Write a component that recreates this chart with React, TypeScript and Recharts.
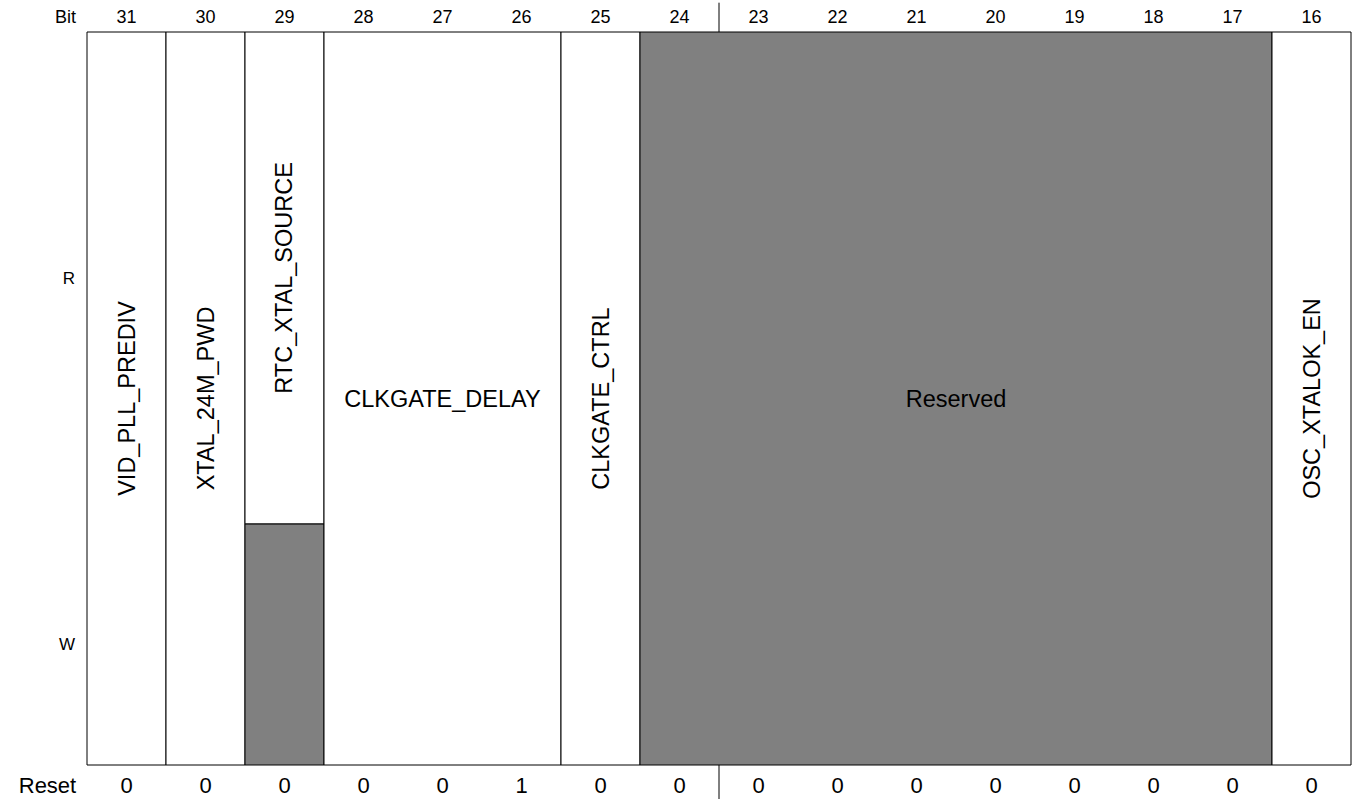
import { ComposedChart, XAxis, YAxis, ReferenceArea, ReferenceLine } from 'recharts';

const FONT = '"Liberation Sans", Arial, Helvetica, sans-serif';

// bit numbers, left to right
const bits = [31, 30, 29, 28, 27, 26, 25, 24, 23, 22, 21, 20, 19, 18, 17, 16];
const resetValues = [0, 0, 0, 0, 0, 1, 0, 0, 0, 0, 0, 0, 0, 0, 0, 0];

// register fields: rw = read/write, ro = read only, reserved = not used
const fields = [
  { name: 'VID_PLL_PREDIV', hi: 31, lo: 31, access: 'rw' },
  { name: 'XTAL_24M_PWD', hi: 30, lo: 30, access: 'rw' },
  { name: 'RTC_XTAL_SOURCE', hi: 29, lo: 29, access: 'ro' },
  { name: 'CLKGATE_DELAY', hi: 28, lo: 26, access: 'rw' },
  { name: 'CLKGATE_CTRL', hi: 25, lo: 25, access: 'rw' },
  { name: 'Reserved', hi: 24, lo: 17, access: 'reserved' },
  { name: 'OSC_XTALOK_EN', hi: 16, lo: 16, access: 'rw' },
];

// access rows on the y axis (0 = bottom, 1 = top)
const accessRows = [
  { name: 'R', from: 0.329, to: 1 },
  { name: 'W', from: 0, to: 0.329 },
];

// the split mark between bit 24 and 23 that runs through the header and reset rows
const halfwordSplitBit = 24;

const data = bits.map((b, i) => ({ pos: i + 0.5, bit: b, reset: resetValues[i] }));
const colOf = (bit: number) => bits[0] - bit;

const GRAY = '#808080';

const fieldLabel = (text: string, vertical: boolean) => (props: any) => {
  const { x, y, width, height } = props.viewBox;
  const cx = x + width / 2;
  const cy = y + height / 2;
  return (
    <text
      x={cx}
      y={cy}
      textAnchor="middle"
      dominantBaseline="central"
      fontSize={23.5}
      fontFamily={FONT}
      fill="#000"
      transform={vertical ? `rotate(-90 ${cx} ${cy})` : undefined}
    >
      {text}
    </text>
  );
};

export default function App() {
  const r = accessRows[0];
  const w = accessRows[1];
  return (
    <div style={{ position: 'absolute', left: 0, top: 0, background: '#fff' }}>
      <ComposedChart width={1354} height={799} data={data} margin={{ top: 0, right: 3, bottom: 0, left: 0 }}>
        <XAxis
          xAxisId="bits"
          orientation="top"
          type="number"
          dataKey="pos"
          domain={[0, bits.length]}
          allowDataOverflow
          ticks={data.map((d) => d.pos)}
          tickFormatter={(v: number) => String(bits[Math.floor(v)])}
          height={32}
          tickSize={0}
          tickMargin={9}
          tickLine={false}
          axisLine={false}
          tick={{ fontSize: 18, fill: '#000', fontFamily: FONT }}
          label={(p: any) => (
            <text x={p.viewBox.x - 21.5} y={p.viewBox.y + p.viewBox.height - 9} textAnchor="middle" fontSize={18} fontFamily={FONT} fill="#000">
              Bit
            </text>
          )}
        />
        <XAxis
          xAxisId="reset"
          orientation="bottom"
          type="number"
          dataKey="pos"
          domain={[0, bits.length]}
          allowDataOverflow
          ticks={data.map((d) => d.pos)}
          tickFormatter={(v: number) => String(resetValues[Math.floor(v)])}
          height={34}
          tickSize={0}
          tickMargin={12}
          tickLine={false}
          axisLine={false}
          tick={{ fontSize: 22, fill: '#000', fontFamily: FONT }}
          label={(p: any) => (
            <text x={p.viewBox.x - 39.5} y={p.viewBox.y + 28} textAnchor="middle" fontSize={22} fontFamily={FONT} fill="#000">
              Reset
            </text>
          )}
        />
        <YAxis
          yAxisId="rows"
          type="number"
          domain={[0, 1]}
          allowDataOverflow
          ticks={accessRows.map((row) => (row.from + row.to) / 2)}
          tickFormatter={(_v: number, i: number) => accessRows[i].name}
          width={87}
          tickSize={0}
          tickMargin={12}
          tickLine={false}
          axisLine={false}
          tick={{ fontSize: 17, fill: '#000', fontFamily: FONT }}
        />

        {fields.map((f) => {
          const x1 = colOf(f.hi);
          const x2 = colOf(f.lo) + 1;
          const vertical = f.hi === f.lo;
          if (f.access === 'ro') {
            return [
              <ReferenceArea key={f.name + '-w'} xAxisId="bits" yAxisId="rows" x1={x1} x2={x2} y1={w.from} y2={w.to} fill={GRAY} fillOpacity={1} stroke="#000" strokeWidth={1} ifOverflow="visible" />,
              <ReferenceArea key={f.name + '-r'} xAxisId="bits" yAxisId="rows" x1={x1} x2={x2} y1={r.from} y2={r.to} fill="#fff" fillOpacity={1} stroke="#000" strokeWidth={1} ifOverflow="visible" label={fieldLabel(f.name, vertical)} />,
            ];
          }
          return (
            <ReferenceArea
              key={f.name}
              xAxisId="bits"
              yAxisId="rows"
              x1={x1}
              x2={x2}
              y1={w.from}
              y2={r.to}
              fill={f.access === 'reserved' ? GRAY : '#fff'}
              fillOpacity={1}
              stroke="#000"
              strokeWidth={1}
              ifOverflow="visible"
              label={fieldLabel(f.name, vertical)}
            />
          );
        })}

        <ReferenceLine
          xAxisId="bits"
          yAxisId="rows"
          segment={[{ x: colOf(halfwordSplitBit) + 1, y: r.to }, { x: colOf(halfwordSplitBit) + 1, y: r.to + 0.04 }]}
          stroke="#000"
          strokeWidth={1}
          ifOverflow="visible"
        />
        <ReferenceLine
          xAxisId="bits"
          yAxisId="rows"
          segment={[{ x: colOf(halfwordSplitBit) + 1, y: w.from - 0.047 }, { x: colOf(halfwordSplitBit) + 1, y: w.from }]}
          stroke="#000"
          strokeWidth={1}
          ifOverflow="visible"
        />
      </ComposedChart>
    </div>
  );
}
